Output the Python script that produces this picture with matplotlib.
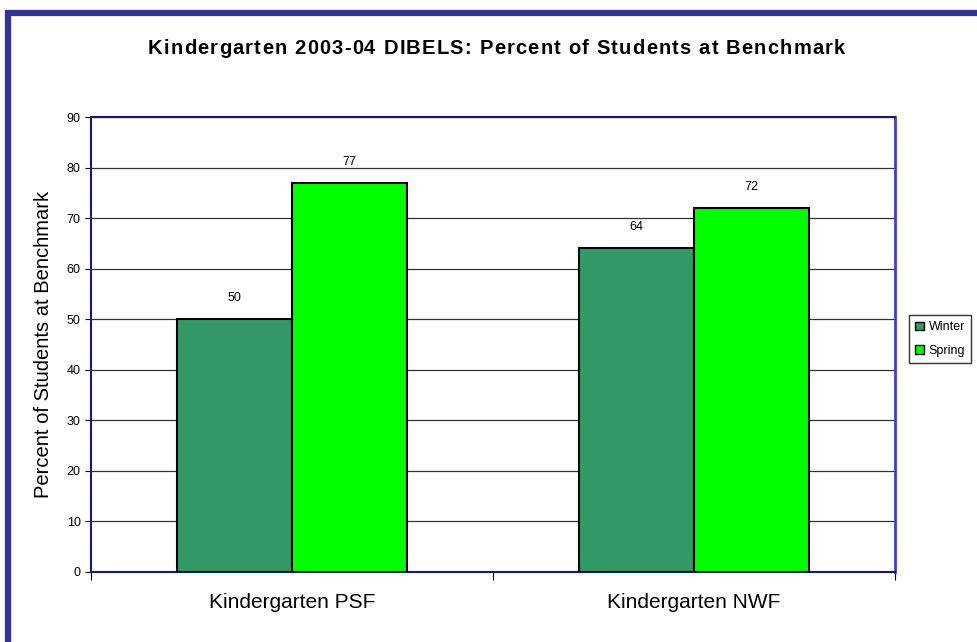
import matplotlib
matplotlib.use('Agg')
import matplotlib.pyplot as plt
from matplotlib.patches import Rectangle, Patch
from matplotlib.font_manager import FontProperties
import numpy as np

# Data
categories = ["Kindergarten PSF", "Kindergarten NWF"]
winter = [50, 64]
spring = [77, 72]
series_names = ["Winter", "Spring"]
yticks = [0, 10, 20, 30, 40, 50, 60, 70, 80, 90]
title = "Kindergarten 2003-04 DIBELS: Percent of Students at Benchmark"

plt.rcParams['font.family'] = ['Liberation Sans', 'DejaVu Sans']

fig = plt.figure(figsize=(9.77, 6.42), dpi=100)
# navy frame around the chart (only top and left visible in the picture)
fig.patches.append(Rectangle((8 / 977, -0.1), 1.2, 1 - 13 / 642 + 0.1,
                             transform=fig.transFigure, fill=False,
                             edgecolor='#333399', linewidth=4.5))

ax = fig.add_axes([91 / 977, 1 - 572 / 642, 804 / 977, 455 / 642])
x = np.arange(len(categories))
w = 0.285
b1 = ax.bar(x - w / 2, winter, w, color='#339966', edgecolor='black', linewidth=1.5, zorder=3)
b2 = ax.bar(x + w / 2, spring, w, color='#00ff00', edgecolor='black', linewidth=1.5, zorder=3)

for bars, vals in ((b1, winter), (b2, spring)):
    for r, v in zip(bars, vals):
        ax.text(r.get_x() + r.get_width() / 2, v + 3, str(v), ha='center', va='bottom', fontsize=9)

ax.set_xlim(-0.5, 1.5)
ax.set_ylim(0, 90)
ax.set_yticks(yticks)
ax.tick_params(axis='y', labelsize=9, length=4, direction='out', colors='black')
ax.set_xticks([-0.5, 0.5, 1.5])
ax.set_xticklabels([])
ax.set_xticks(x, minor=True)
ax.set_xticklabels(categories, minor=True, fontsize=15)
ax.tick_params(axis='x', which='minor', length=0, pad=15)
ax.tick_params(axis='x', which='major', length=6, direction='out')
ax.yaxis.grid(True, color='#333333', linewidth=0.9, zorder=0)
ax.set_axisbelow(True)

for s in ['left', 'bottom', 'top']:
    ax.spines[s].set_color('#1a1a66')
    ax.spines[s].set_linewidth(1.5)
ax.spines['right'].set_color('#4040c0')
ax.spines['right'].set_linewidth(2)

ax.set_ylabel("Percent of Students at Benchmark", fontsize=14.5, labelpad=10)

# Title with slightly widened letter spacing, placed char by char
fp = FontProperties(family='Liberation Sans', weight='bold', size=14.5)
renderer = fig.canvas.get_renderer()
def pw(s):
    return renderer.get_text_width_height_descent(s, fp, ismath=False)[0]
left_px, right_px = 148, 845
extra = max(0, (right_px - left_px - pw(title)) / (len(title) - 1))
for i, ch in enumerate(title):
    xp = left_px + pw(title[:i]) + i * extra
    fig.text(xp / 977, 1 - 48 / 642, ch, ha='left', va='center', fontproperties=fp)

handles = [Patch(facecolor='#339966', edgecolor='black'),
           Patch(facecolor='#00ff00', edgecolor='black')]
leg = fig.legend(handles, series_names, loc='center', bbox_to_anchor=(940 / 977, 1 - 339 / 642),
                 fontsize=9, frameon=True, fancybox=False, handlelength=0.7, handleheight=0.7,
                 handletextpad=0.4, borderpad=0.5, labelspacing=0.9, borderaxespad=0)
leg.get_frame().set_edgecolor('black')
leg.get_frame().set_linewidth(1)

plt.savefig('out.png')
